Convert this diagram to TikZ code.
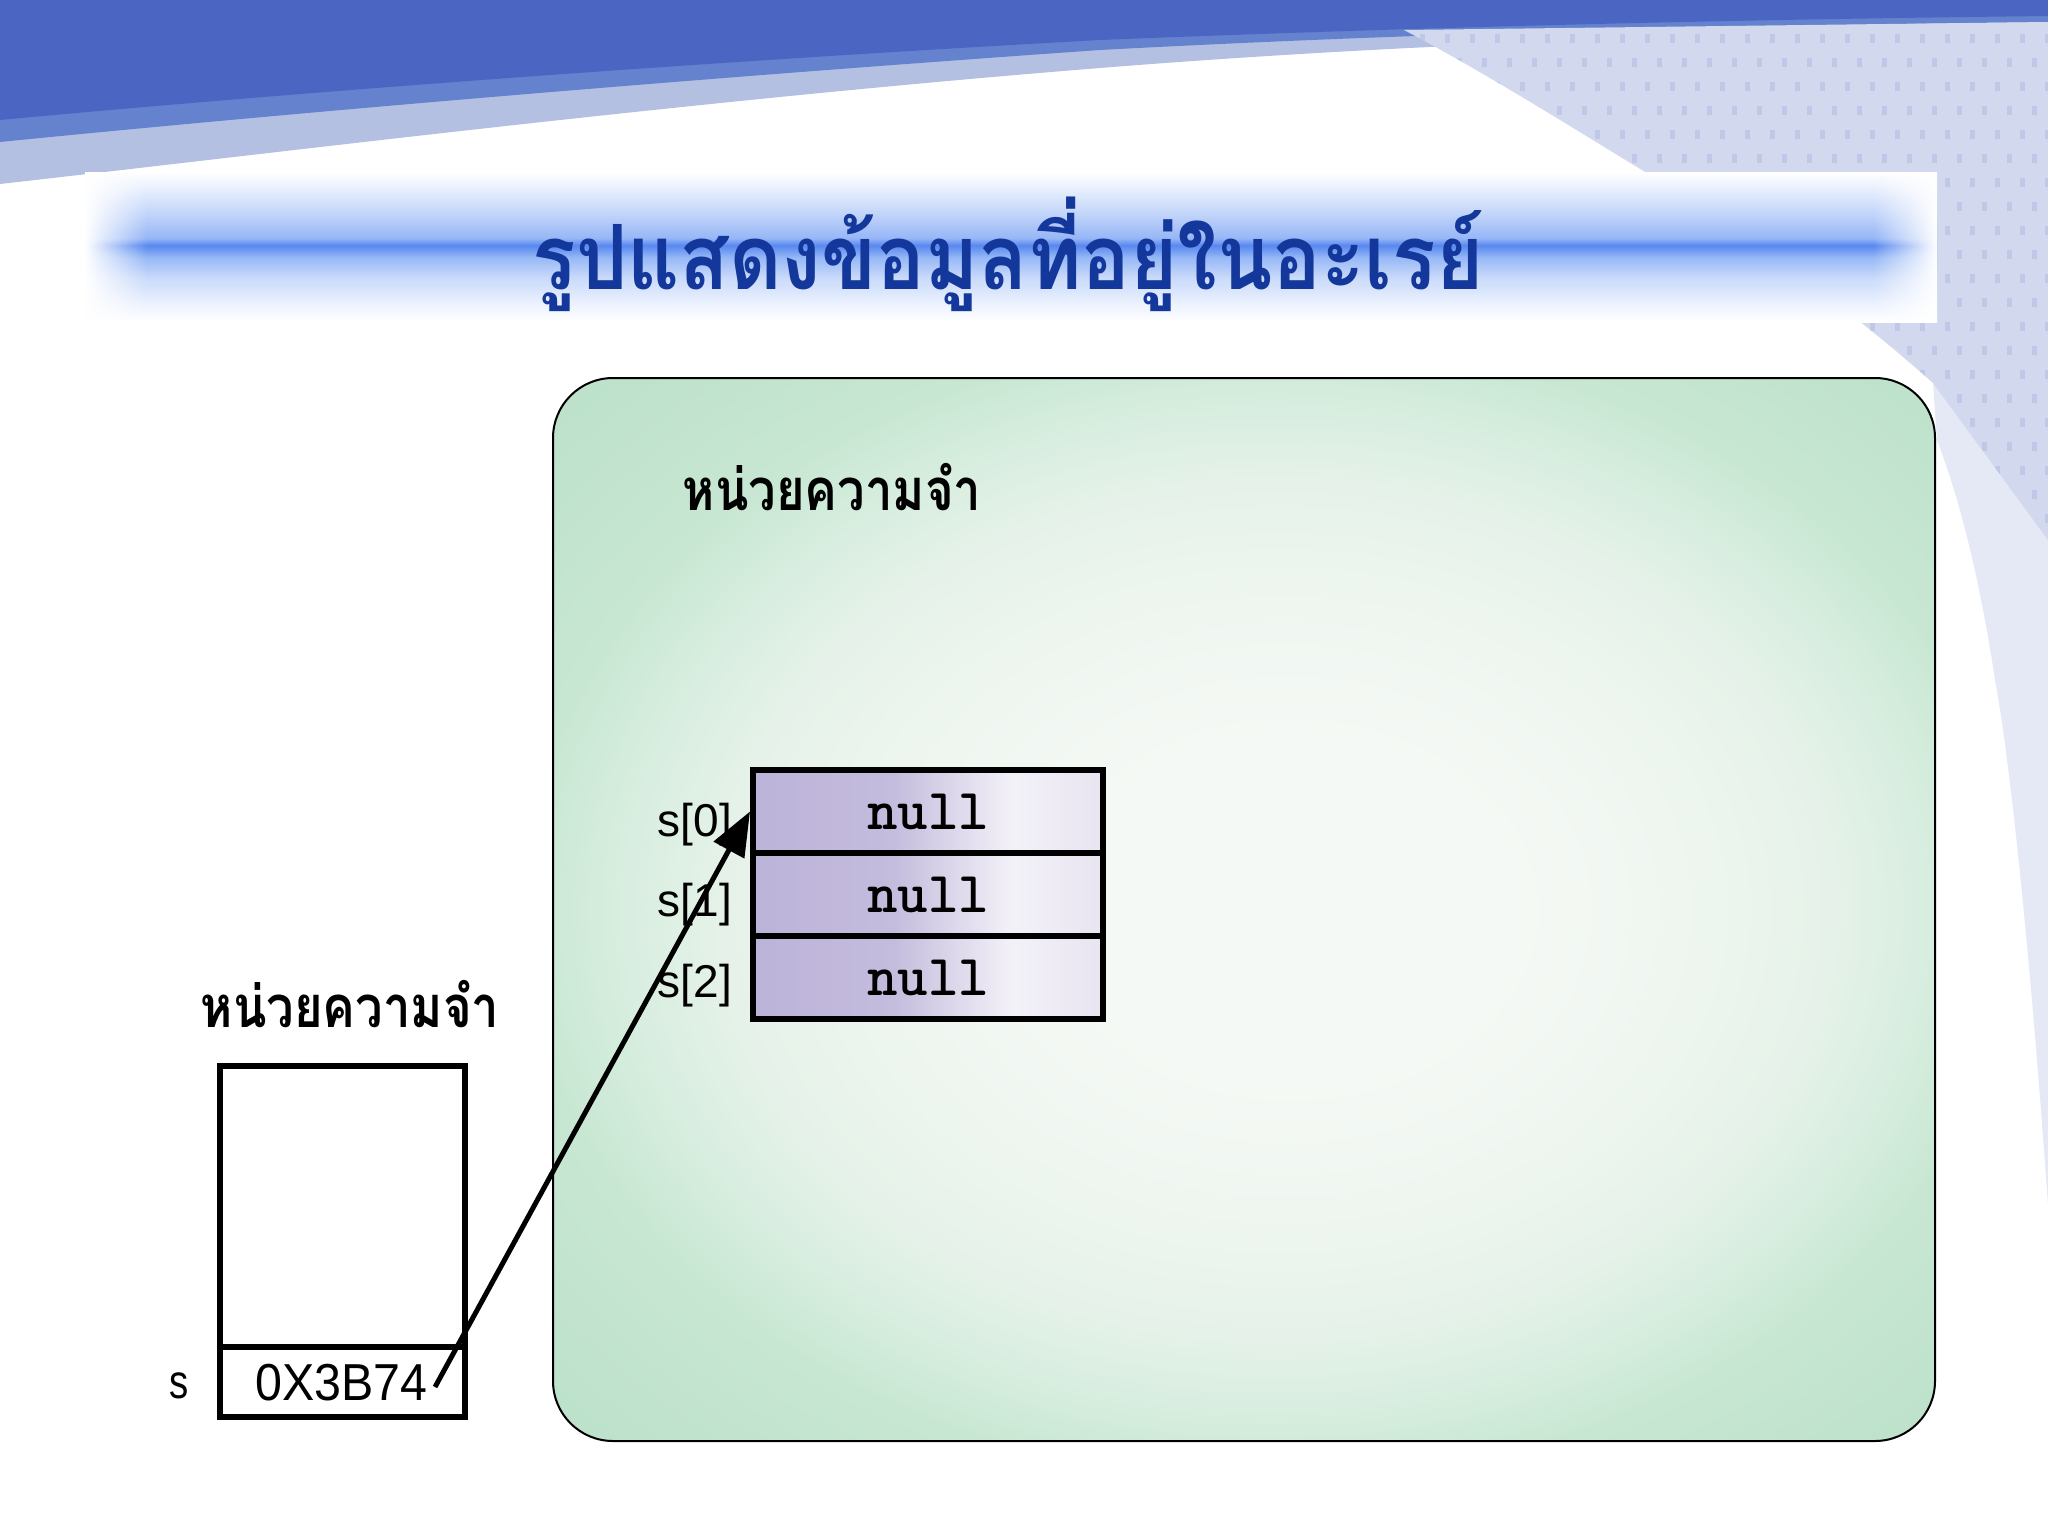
\documentclass[tikz,border=0pt]{standalone}
\usepackage{fontspec}
\newfontfamily\thaifont[Script=Thai]{Loma}
\newfontfamily\lsans{Liberation Sans}
\usetikzlibrary{arrows.meta,fadings}
\definecolor{topdark}{RGB}{75,102,194}
\definecolor{topmid}{RGB}{100,130,206}
\definecolor{toppale}{RGB}{180,192,225}
\definecolor{patbg}{RGB}{210,217,238}
\definecolor{patdot}{RGB}{192,200,231}
\definecolor{bandc}{RGB}{229,232,245}
\definecolor{titleblue}{RGB}{20,55,155}
\definecolor{gC}{RGB}{245,249,245}
\definecolor{gC2}{RGB}{239,246,240}
\definecolor{gM}{RGB}{230,242,233}
\definecolor{gE}{RGB}{214,237,222}
\definecolor{gE2}{RGB}{200,231,211}
\definecolor{gF}{RGB}{188,225,202}
\definecolor{lavA}{RGB}{188,179,217}
\definecolor{lavA2}{RGB}{196,188,221}
\definecolor{lavB}{RGB}{243,241,248}
\definecolor{lavC}{RGB}{232,228,241}
\definecolor{tb1}{RGB}{236,242,254}
\definecolor{tb2}{RGB}{200,217,250}
\definecolor{tb3}{RGB}{150,184,246}
\definecolor{tb4}{RGB}{88,136,240}
\definecolor{tb5}{RGB}{150,182,246}
\definecolor{tb6}{RGB}{188,209,249}
\definecolor{tb7}{RGB}{226,235,253}
\pgfdeclareradialshading{greenbox}{\pgfpoint{2bp}{0bp}}{color(0bp)=(gC); color(8bp)=(gC); color(14bp)=(gC2); color(20bp)=(gM); color(24bp)=(gE); color(27bp)=(gE2); color(35bp)=(gF); color(50bp)=(gF)}
\pgfdeclarehorizontalshading{lavcell}{100bp}{color(0bp)=(lavA); color(25bp)=(lavA); color(45bp)=(lavA2); color(62bp)=(lavB); color(75bp)=(lavC); color(100bp)=(lavC)}
\pgfdeclareverticalshading{titlebar}{100bp}{color(0bp)=(white); color(25bp)=(white); color(31bp)=(tb1); color(40bp)=(tb2); color(46.5bp)=(tb3); color(50.5bp)=(tb4); color(53bp)=(tb5); color(60bp)=(tb6); color(68bp)=(tb7); color(75bp)=(white); color(100bp)=(white)}
\tikzfading[name=fadeToRight, left color=transparent!0, right color=transparent!100]
\tikzfading[name=fadeToLeft, left color=transparent!100, right color=transparent!0]
\tikzset{
  cellbox/.style={draw=black, line width=6pt, shade, shading=lavcell, minimum width=350pt, minimum height=83pt, inner sep=0pt,
    font=\ttfamily\bfseries\fontsize{58}{64}\selectfont},
  idxlabel/.style={anchor=base east, inner sep=0pt, font=\lsans\fontsize{46}{52}\selectfont},
  thailabel/.style={anchor=base, inner sep=0pt, font=\thaifont\bfseries\fontsize{58}{66}\selectfont},
  membox/.style={draw=black, line width=5.5pt, fill=white, minimum width=245pt, inner sep=0pt},
  pointer/.style={line width=5pt, -{Triangle[length=44pt,width=34pt]}},
}
\newcommand{\celltext}[1]{\raisebox{-6pt}{#1}}
\begin{document}
\begin{tikzpicture}[x=1pt,y=-1pt]
\useasboundingbox (0,0) rectangle (2048,1536);
\fill[white] (0,0) rectangle (2048,1536);
% top waves
\fill[toppale] (0,0) -- (2048,0) -- (2048,30) .. controls (1700,34) and (1400,44) .. (1100,68) .. controls (700,100) and (300,150) .. (0,184) -- cycle;
\fill[topmid] (0,0) -- (2048,0) -- (2048,22) .. controls (1700,26) and (1400,34) .. (1100,50) .. controls (700,78) and (300,112) .. (0,142) -- cycle;
\fill[topdark] (0,0) -- (2048,0) -- (2048,16) .. controls (1700,20) and (1400,28) .. (1100,40) .. controls (700,62) and (300,92) .. (0,120) -- cycle;
% right band
\fill[bandc] (1933,383) -- (2048,520) -- (2048,1205) .. controls (2030,950) and (2010,760) .. (1995,680) .. controls (1980,580) and (1960,500) .. (1937,440) -- cycle;
% pattern region
\begin{scope}
\clip (1404,30) .. controls (1480,70) and (1560,120) .. (1650,175) .. controls (1750,240) and (1840,300) .. (1933,383) -- (2048,540) -- (2048,22) -- cycle;
\fill[patbg] (1380,0) rectangle (2048,560);
\foreach \i in {0,...,27} {
  \foreach \j in {0,...,22} {
    \fill[patdot] ({1395+\i*25+mod(\j,2)*12},{34+\j*24}) rectangle +(5,9);
  }
}
\end{scope}
% title bar
\shade[shading=titlebar] (85,172) rectangle (1937,322);
\fill[white, path fading=fadeToRight] (85,172) rectangle (147,322);
\fill[white, path fading=fadeToLeft] (1873,172) rectangle (1937,322);
\node[anchor=base, inner sep=0pt, text=titleblue, font=\thaifont\bfseries\fontsize{90}{100}\selectfont] (title) at (1008,289) {\scalebox{0.9}[1]{รูปแสดงข้อมูลที่อยู่ในอะเรย์}};
% memory area
\node[draw=black, line width=2pt, rounded corners=60pt, shade, shading=greenbox, minimum width=1382pt, minimum height=1063pt, inner sep=0pt] (heap) at (1244,909.5) {};
\node[thailabel] (heaplabel) at (832,510) {\scalebox{0.845}[1]{หน่วยความจำ}};
% array cells
\node[cellbox] (c0) at (928,811.5) {\celltext{null}};
\node[cellbox] (c1) at (928,894.5) {\celltext{null}};
\node[cellbox] (c2) at (928,977.5) {\celltext{null}};
\node[idxlabel] (l0) at (732,836) {s[0]};
\node[idxlabel] (l1) at (732,916) {s[1]};
\node[idxlabel] (l2) at (732,997) {s[2]};
% stack memory
\node[thailabel] (stacklabel) at (350,1027) {\scalebox{0.845}[1]{หน่วยความจำ}};
\node[membox, minimum height=281pt] (upper) at (342.5,1206.5) {};
\node[membox, minimum height=70pt] (scell) at (342.5,1382) {};
\node[anchor=base, inner sep=0pt, font=\lsans\fontsize{52}{58}\selectfont] (addr) at (341.5,1400) {\scalebox{0.93}[1]{0X3B74}};
\node[anchor=base, inner sep=0pt, font=\lsans\fontsize{48}{54}\selectfont] (sname) at (179,1398) {\scalebox{0.8}[1]{s}};
\coordinate (pstart) at (435,1387);
\draw[pointer] (pstart) -- (c0.west);
\end{tikzpicture}
\end{document}
